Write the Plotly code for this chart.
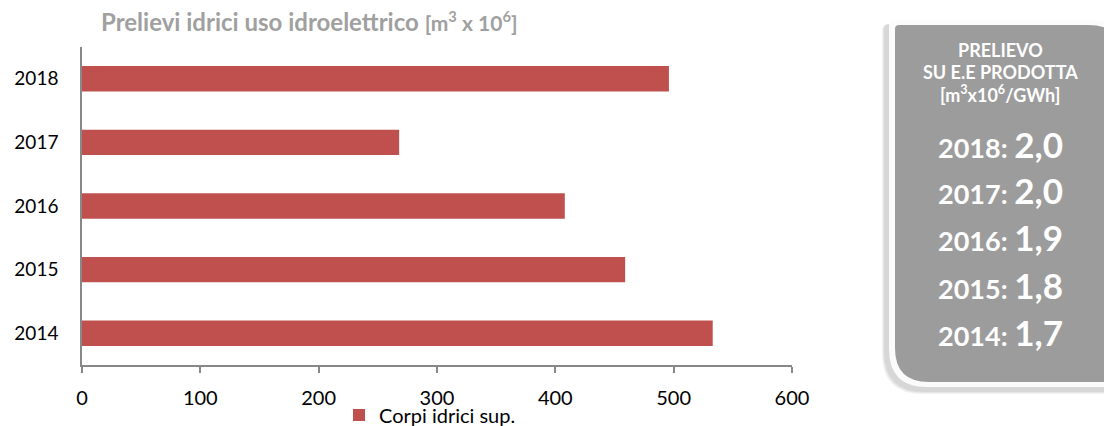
import plotly.graph_objects as go

# ---- data ----
years = ["2014", "2015", "2016", "2017", "2018"]
prelievi = [533, 459, 408, 268, 496]
series_name = "Corpi idrici sup."
ratio_years = ["2018", "2017", "2016", "2015", "2014"]
ratio_values = ["2,0", "2,0", "1,9", "1,8", "1,7"]
x_ticks = [0, 100, 200, 300, 400, 500, 600]

W, H = 1104, 426
L, R, T, B = 82, 792, 47, 365  # pixel coordinates of the plot area
FONT = "Lato"


def px(x):
    return (x - L) / (R - L)


def py(y):
    return (B - y) / (B - T)


fig = go.Figure()
fig.add_trace(go.Bar(
    y=years, x=prelievi, orientation="h", name=series_name,
    marker=dict(color="#C0504D", line=dict(width=0)), width=0.4,
    showlegend=True,
))

fig.update_layout(
    width=W, height=H,
    margin=dict(l=L, r=W - R, t=T, b=H - B, autoexpand=False),
    paper_bgcolor="white", plot_bgcolor="white",
    font=dict(family=FONT, size=19, color="#000000"),
    showlegend=True,
    legend=dict(orientation="h", x=px(339), y=py(415), xanchor="left", yanchor="middle",
                font=dict(size=20, family=FONT, color="#000000"),
                itemwidth=30, bgcolor="rgba(0,0,0,0)"),
    xaxis=dict(range=[0, 600], tickvals=x_ticks, showgrid=False, zeroline=False,
               showline=True, linecolor="#888888", linewidth=1.5,
               ticks="outside", ticklen=6, tickcolor="#888888", tickwidth=1.5,
               ticklabelstandoff=8,
               tickfont=dict(size=20, family=FONT), fixedrange=True),
    yaxis=dict(type="category", categoryorder="array", categoryarray=years,
               showgrid=False, zeroline=False, showline=True, linecolor="#888888",
               linewidth=1.5, ticks="", ticklabelstandoff=18,
               tickfont=dict(size=19, family=FONT), fixedrange=True),
)

# title
fig.add_annotation(
    xref="paper", yref="paper", x=px(99), y=py(22), xanchor="left", yanchor="middle",
    text="<b>Prelievi idrici uso idroelettrico </b><b><span style='font-size:21px'>[m<sup>3</sup> x 10<sup>6</sup>]</span></b>",
    showarrow=False, font=dict(size=24, family=FONT, color="#A0A0A0"),
)


# right box with shadow, white border and grey fill
def box_path(x0, y0, x1, y1, r_tl, r_tr, r_bl):
    pts = []
    pts.append(f"M {px(x0)},{py(y0 + r_tl)}")
    pts.append(f"Q {px(x0)},{py(y0)} {px(x0 + r_tl)},{py(y0)}")
    pts.append(f"L {px(x1 - r_tr)},{py(y0)}")
    pts.append(f"Q {px(x1)},{py(y0)} {px(x1)},{py(y0 + r_tr)}")
    pts.append(f"L {px(x1)},{py(y1)}")
    pts.append(f"L {px(x0 + r_bl)},{py(y1)}")
    pts.append(f"Q {px(x0)},{py(y1)} {px(x0)},{py(y1 - r_bl)}")
    pts.append("Z")
    return " ".join(pts)


for i, a in enumerate([0.05, 0.05, 0.06]):
    d = 4 - i
    fig.add_shape(type="path", xref="paper", yref="paper",
                  path=box_path(886 - d, 24, 1135 + d, 390 + d, 6, 42, 40),
                  fillcolor=f"rgba(0,0,0,{a})", line=dict(width=0), layer="below")
fig.add_shape(type="path", xref="paper", yref="paper",
              path=box_path(889, 20, 1132, 387, 6, 42, 38),
              fillcolor="#FBFBFB", line=dict(width=0))
fig.add_shape(type="path", xref="paper", yref="paper",
              path=box_path(895, 25, 1126, 382, 4, 38, 34),
              fillcolor="#9C9C9C", line=dict(width=0))

header = ["PRELIEVO", "SU E.E PRODOTTA", "[m<sup>3</sup>x10<sup>6</sup>/GWh]"]
header_y = [50, 72, 94]
for txt, yy in zip(header, header_y):
    fig.add_annotation(xref="paper", yref="paper", x=px(1000), y=py(yy),
                       xanchor="center", yanchor="middle", showarrow=False,
                       text=f"<b>{txt}</b>", font=dict(size=18, family=FONT, color="white"))

val_y = [144, 190, 237, 285, 332]
for yr, v, yy in zip(ratio_years, ratio_values, val_y):
    fig.add_annotation(xref="paper", yref="paper", x=px(1000), y=py(yy),
                       xanchor="center", yanchor="middle", showarrow=False,
                       text=f"<b>{yr}: <span style='font-size:35px'>{v}</span></b>",
                       font=dict(size=27, family=FONT, color="white"))

fig.write_html("out.html", config={"displayModeBar": False},
               post_script="document.body.style.margin='0';")
